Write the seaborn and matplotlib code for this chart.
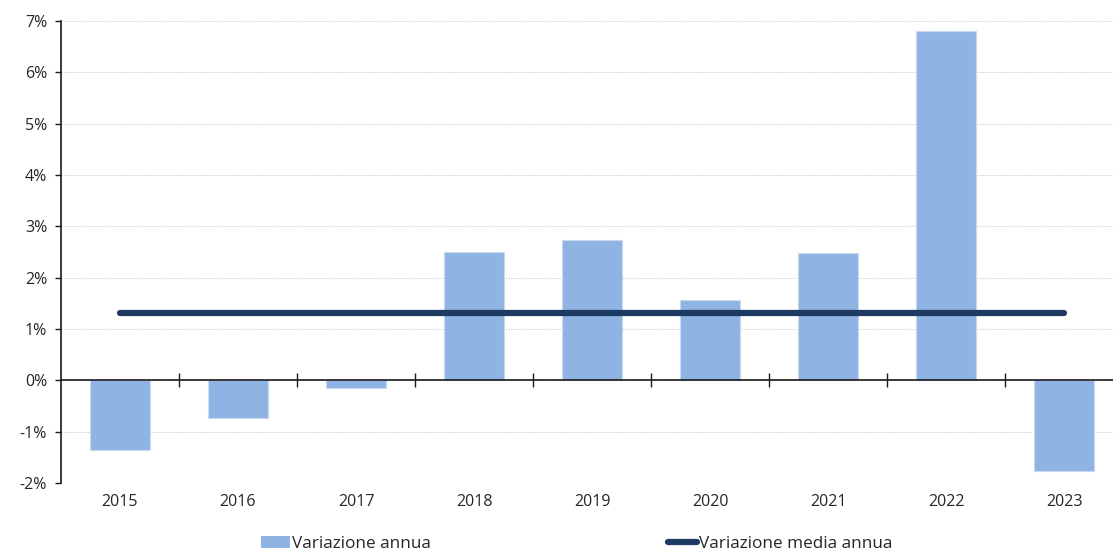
import matplotlib.pyplot as plt
import numpy as np
import pandas as pd
import seaborn as sns
from matplotlib.lines import Line2D
from matplotlib.patches import Patch
from matplotlib.ticker import FuncFormatter, MultipleLocator

# --- Data (values in %) ---
years = ["2015", "2016", "2017", "2018", "2019", "2020", "2021", "2022", "2023"]
annual_change = [-1.36, -0.74, -0.15, 2.50, 2.73, 1.57, 2.48, 6.80, -1.77]
mean_change = 1.31

bar_color = "#8FB3E2"
line_color = "#1D3A62"


def main():
    sns.set_theme(style="white")
    plt.rcParams["font.family"] = ["Open Sans", "DejaVu Sans"]
    plt.rcParams["text.color"] = "#262626"

    df = pd.DataFrame({"year": years, "change": annual_change})

    fig = plt.figure(figsize=(11.13, 5.54), dpi=100)
    ax = fig.add_axes([0.0548, 0.128, 0.9452, 0.834])

    sns.barplot(data=df, x="year", y="change", color=bar_color, width=0.51,
                edgecolor="#C9DAF0", linewidth=0.8, saturation=1, ax=ax, zorder=2)

    xpos = np.arange(len(years))
    sns.lineplot(x=xpos, y=[mean_change] * len(years), color=line_color,
                 linewidth=4.5, solid_capstyle="round", ax=ax, zorder=4)

    ax.set_ylim(-2, 7)
    ax.set_xlim(-0.5, 8.415)
    ax.yaxis.set_major_locator(MultipleLocator(1))
    ax.yaxis.set_major_formatter(FuncFormatter(lambda v, _: f"{v:.0f}%"))
    ax.grid(axis="y", color="#C4C4C4", linestyle=(0, (1, 1.5)), linewidth=0.7, zorder=0)
    ax.set_axisbelow(True)

    for s in ["top", "right", "bottom"]:
        ax.spines[s].set_visible(False)
    ax.spines["left"].set_color("#1A1A1A")
    ax.spines["left"].set_linewidth(1.2)
    ax.tick_params(axis="y", direction="out", length=4, width=1, color="#1A1A1A",
                   labelsize=11.5, pad=6, left=True)
    ax.tick_params(axis="x", length=0, labelsize=11.5, pad=8)
    ax.set_xlabel("")
    ax.set_ylabel("")

    # solid zero line drawn over the bars
    ax.axhline(0, color="#1A1A1A", linewidth=1.2, zorder=3)

    # category separator ticks on the zero line
    lo, hi = ax.get_ylim()
    sec = ax.secondary_xaxis((0 - lo) / (hi - lo))
    sec.set_xticks(xpos[:-1] + 0.5)
    sec.set_xticklabels([])
    sec.tick_params(axis="x", direction="inout", length=10, width=1, color="#1A1A1A")
    sec.spines["bottom"].set_visible(False)

    handles = [
        Patch(facecolor=bar_color, edgecolor="none", label="Variazione annua"),
        Line2D([0], [0], color=line_color, linewidth=4.5, solid_capstyle="round",
               label="Variazione media annua"),
    ]
    fig.legend(handles=handles, loc="center", bbox_to_anchor=(0.518, 0.018), ncol=2,
               frameon=False, fontsize=12.3, handlelength=1.7, handletextpad=0.1,
               columnspacing=13.9, handleheight=0.7)

    fig.savefig("out.png", dpi=100)
    plt.close(fig)


if __name__ == "__main__":
    main()
